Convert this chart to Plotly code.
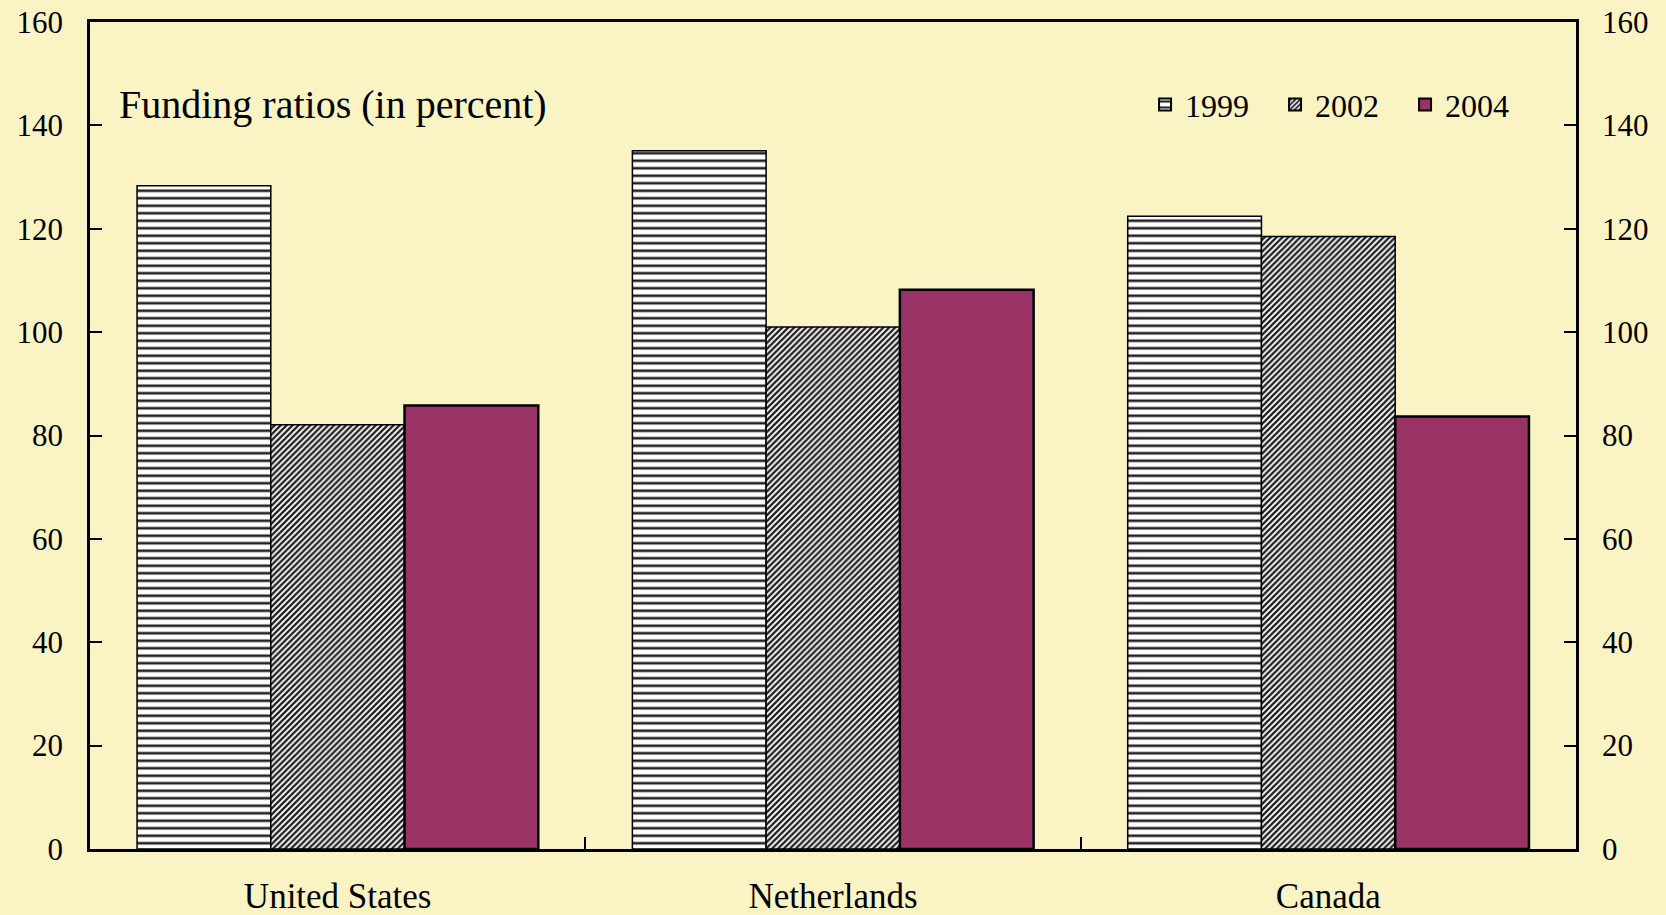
import plotly.graph_objects as go

countries = ["United States", "Netherlands", "Canada"]
years = ["1999", "2002", "2004"]
v1999 = [128.3, 135.1, 122.4]
v2002 = [82.1, 101.0, 118.5]
v2004 = [85.8, 108.2, 83.7]
yticks = [0, 20, 40, 60, 80, 100, 120, 140, 160]

xpos = list(range(len(countries)))
bounds = [i + 0.5 for i in xpos[:-1]]

FONT = "Liberation Serif, Times New Roman, serif"
BG = "#FAF3C3"

fig = go.Figure()
fig.add_trace(go.Bar(
    name=years[0], x=xpos, y=v1999,
    marker=dict(color="white", line=dict(color="black", width=1.5),
                pattern=dict(shape="-", size=7.5, solidity=0.35,
                             fgcolor="#222222", bgcolor="white", fillmode="replace")),
))
fig.add_trace(go.Bar(
    name=years[1], x=xpos, y=v2002,
    marker=dict(color="white", line=dict(color="black", width=1.5),
                pattern=dict(shape="/", size=4.2, solidity=0.55,
                             fgcolor="#222222", bgcolor="white", fillmode="replace")),
))
fig.add_trace(go.Bar(
    name=years[2], x=xpos, y=v2004,
    marker=dict(color="#993366", line=dict(color="black", width=2.5)),
))
# helper trace for the secondary axes (boundary ticks & right labels)
fig.add_trace(go.Scatter(x=xpos, y=[None] * len(xpos), xaxis="x2", yaxis="y2",
                         showlegend=False, hoverinfo="skip", mode="markers"))

tickfont = dict(size=31, family=FONT, color="black")

fig.update_layout(
    width=1666, height=915,
    margin=dict(l=90, r=90, t=22, b=66),
    paper_bgcolor=BG, plot_bgcolor=BG,
    font=dict(family=FONT, color="black", size=31),
    barmode="group", bargap=0.19, bargroupgap=0,
    showlegend=True,
    legend=dict(orientation="h", x=0.71, xanchor="left", y=0.90, yanchor="middle",
                bgcolor="rgba(0,0,0,0)", font=dict(size=32, family=FONT),
                entrywidth=85, entrywidthmode="pixels", itemsizing="constant",
                traceorder="normal"),
    xaxis=dict(range=[-0.5, len(countries) - 0.5], tickvals=xpos, ticktext=countries,
               ticks="", showline=True, linecolor="black", linewidth=2.5,
               mirror=True, showgrid=False, zeroline=False, automargin=False,
               tickfont=dict(size=35, family=FONT, color="black"), ticklabelstandoff=14),
    xaxis2=dict(overlaying="x", range=[-0.5, len(countries) - 0.5], tickvals=bounds,
                showticklabels=False, ticks="inside", ticklen=12, tickwidth=2,
                tickcolor="black", showline=False, showgrid=False, zeroline=False,
                side="bottom", automargin=False),
    yaxis=dict(range=[0, 160], tickvals=yticks, ticks="inside", ticklen=12, tickwidth=2,
               tickcolor="black", showline=True, linecolor="black", linewidth=2.5,
               mirror=True, showgrid=False, zeroline=False, automargin=False,
               tickfont=tickfont, ticklabelstandoff=18),
    yaxis2=dict(overlaying="y", side="right", range=[0, 160], tickvals=yticks,
                ticks="inside", ticklen=12, tickwidth=2, tickcolor="black",
                showline=False, showgrid=False, zeroline=False, automargin=False,
                tickfont=tickfont, ticklabelstandoff=25),
    annotations=[dict(text="Funding ratios (in percent)", xref="paper", yref="paper",
                      x=0.018, y=0.9, xanchor="left", yanchor="middle", showarrow=False,
                      font=dict(size=40, family=FONT, color="black"))],
)

fig.write_html("out.html")
